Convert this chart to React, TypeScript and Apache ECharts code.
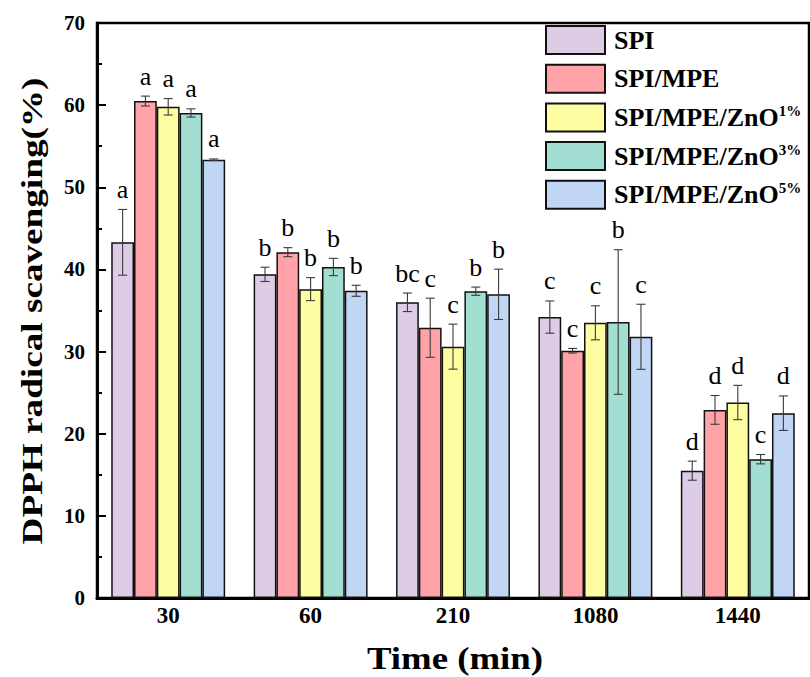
import React, { useEffect, useRef } from "react";
import * as echarts from "echarts";

const categories = ["30", "60", "210", "1080", "1440"];
const seriesNames = ["SPI", "SPI/MPE", "SPI/MPE/ZnO1%", "SPI/MPE/ZnO3%", "SPI/MPE/ZnO5%"];

const spi = [43.3, 39.4, 36.0, 34.2, 15.5];
const spiErr = [4.0, 0.87, 1.13, 1.96, 1.16];
const spiLetters = ["a", "b", "bc", "c", "d"];

const mpe = [60.5, 42.1, 32.9, 30.1, 22.9];
const mpeErr = [0.6, 0.55, 3.6, 0.28, 1.75];
const mpeLetters = ["a", "b", "c", "c", "d"];

const zno1 = [59.8, 37.6, 30.6, 33.5, 23.8];
const zno1Err = [1.0, 1.4, 2.74, 2.07, 2.09];
const zno1Letters = ["a", "b", "c", "c", "d"];

const zno3 = [59.05, 40.3, 37.35, 33.6, 16.9];
const zno3Err = [0.5, 1.05, 0.5, 8.8, 0.57];
const zno3Letters = ["a", "b", "b", "b", "c"];

const zno5 = [53.35, 37.4, 36.97, 31.8, 22.5];
const zno5Err = [0.1, 0.67, 3.06, 3.96, 2.1];
const zno5Letters = ["a", "b", "b", "c", "d"];

const yTicks = { min: 0, max: 70, interval: 10 };

const colors = ["#DECBE6", "#FFA3A9", "#FEFDA2", "#A2DED1", "#C1D5F5"];

const values = [spi, mpe, zno1, zno3, zno5];
const errors = [spiErr, mpeErr, zno1Err, zno3Err, zno5Err];
const letters = [spiLetters, mpeLetters, zno1Letters, zno3Letters, zno5Letters];

const SERIF = "'Liberation Serif', 'Times New Roman', serif";

export default function App() {
  const ref = useRef<HTMLDivElement>(null);

  useEffect(() => {
    if (!ref.current) return;
    const chart = echarts.init(ref.current, undefined, { renderer: "svg" });
    const nSeries = seriesNames.length;
    const catGap = 0.2;

    const barSeries = seriesNames.map((name, i) => ({
      name,
      type: "bar",
      data: values[i],
      barGap: "0%",
      barCategoryGap: "20%",
      itemStyle: { color: colors[i], borderColor: "#111", borderWidth: 1.5 },
      z: 2,
    }));

    const errSeries = seriesNames.map((name, i) => ({
      name: "err-" + name,
      type: "custom",
      z: 5,
      data: values[i].map((v, k) => [k, v, errors[i][k], letters[i][k]]),
      encode: { x: 0, y: 1 },
      renderItem: (params: any, api: any) => {
        const k = api.value(0);
        const v = api.value(1);
        const e = api.value(2);
        const letter = letters[i][k];
        const bandW = api.size([1, 0])[0];
        const barW = (bandW * (1 - catGap)) / nSeries;
        const cx = api.coord([k, v])[0] + (i - (nSeries - 1) / 2) * barW;
        const yTop = api.coord([k, v + e])[1];
        const yBot = api.coord([k, v - e])[1];
        const cap = 4.5;
        const ls = { stroke: "#3a3a3a", lineWidth: 1.1 };
        return {
          type: "group",
          children: [
            { type: "line", shape: { x1: cx, y1: yTop, x2: cx, y2: yBot }, style: ls },
            { type: "line", shape: { x1: cx - cap, y1: yTop, x2: cx + cap, y2: yTop }, style: ls },
            { type: "line", shape: { x1: cx - cap, y1: yBot, x2: cx + cap, y2: yBot }, style: ls },
            {
              type: "text",
              x: cx,
              y: yTop - 7,
              style: {
                text: letter,
                fontSize: 26,
                fontFamily: SERIF,
                fill: "#000",
                align: "center",
                textAlign: "center",
                verticalAlign: "bottom",
                textVerticalAlign: "bottom",
              },
            },
          ],
        };
      },
    }));

    chart.setOption({
      animation: false,
      backgroundColor: "#fff",
      grid: {
        left: 97,
        top: 23,
        width: 712,
        height: 575,
        show: true,
        borderColor: "#000",
        borderWidth: 2.5,
        backgroundColor: "transparent",
      },
      legend: {
        orient: "vertical",
        left: 540,
        top: 20,
        itemWidth: 59,
        itemHeight: 28,
        itemGap: 8.7,
        icon: "rect",
        data: seriesNames,
        formatter: (name: string) => {
          const m = name.match(/^(.*ZnO)(\d%)$/);
          if (m) return "{m|" + m[1] + "}{sup|" + m[2] + "}";
          return "{m|" + name + "}";
        },
        textStyle: {
          color: "#000",
          padding: [0, 0, 0, 4],
          rich: {
            m: { fontFamily: SERIF, fontWeight: "bold", fontSize: 26, lineHeight: 28, color: "#000" },
            sup: {
              fontFamily: SERIF,
              fontWeight: "bold",
              fontSize: 15,
              lineHeight: 14,
              verticalAlign: "top",
              color: "#000",
            },
          },
        },
      },
      xAxis: {
        type: "category",
        data: categories,
        axisLine: { show: true, lineStyle: { color: "#000", width: 3 } },
        axisTick: { show: false },
        axisLabel: {
          fontFamily: SERIF,
          fontWeight: "bold",
          fontSize: 23,
          color: "#000",
          margin: 6,
        },
      },
      yAxis: {
        type: "value",
        min: yTicks.min,
        max: yTicks.max,
        interval: yTicks.interval,
        splitLine: { show: false },
        axisLine: { show: true, lineStyle: { color: "#000", width: 3 } },
        axisTick: { show: true, inside: true, length: 9, lineStyle: { color: "#000", width: 2 } },
        minorTick: { show: true, splitNumber: 2, length: 5, lineStyle: { color: "#000", width: 2 } },
        axisLabel: {
          fontFamily: SERIF,
          fontWeight: "bold",
          fontSize: 21,
          color: "#000",
          margin: 12,
        },
      },
      graphic: [
        {
          type: "text",
          x: 32,
          y: 311,
          rotation: Math.PI / 2,
          scaleX: 1.24,
          style: {
            text: "DPPH radical scavenging(%)",
            fontFamily: SERIF,
            fontWeight: "bold",
            fontSize: 30,
            fill: "#000",
            align: "center",
            textAlign: "center",
            verticalAlign: "middle",
            textVerticalAlign: "middle",
          },
        },
        {
          type: "text",
          x: 455,
          y: 658,
          scaleX: 1.15,
          style: {
            text: "Time (min)",
            fontFamily: SERIF,
            fontWeight: "bold",
            fontSize: 32,
            fill: "#000",
            align: "center",
            textAlign: "center",
            verticalAlign: "middle",
            textVerticalAlign: "middle",
          },
        },
      ],
      series: [...barSeries, ...errSeries],
    });

    return () => chart.dispose();
  }, []);

  return (
    <div
      ref={ref}
      style={{ position: "fixed", left: 0, top: 0, width: 810, height: 677, background: "#fff" }}
    />
  );
}
